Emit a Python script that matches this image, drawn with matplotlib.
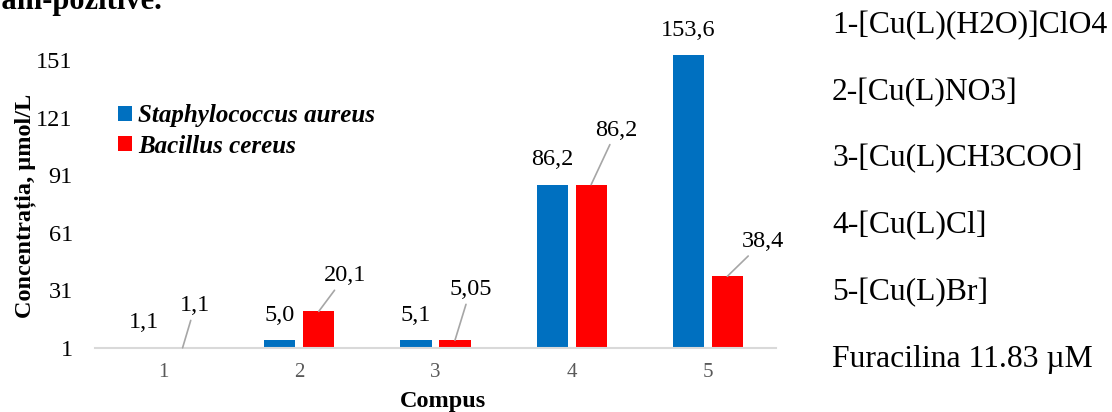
import matplotlib.pyplot as plt
import numpy as np

plt.rcParams["font.family"] = ["Liberation Serif", "DejaVu Serif"]

compounds = ["1", "2", "3", "4", "5"]
staph = [1.1, 5.0, 5.1, 86.2, 153.6]
bacillus = [1.1, 20.1, 5.05, 86.2, 38.4]
series_names = ["Staphylococcus aureus", "Bacillus cereus"]
legend_lines = [
    "1-[Cu(L)(H2O)]ClO4",
    "2-[Cu(L)NO3]",
    "3-[Cu(L)CH3COO]",
    "4-[Cu(L)Cl]",
    "5-[Cu(L)Br]",
    "Furacilina 11.83 µM",
]
yticks = [1, 31, 61, 91, 121, 151]

W, H = 1112, 412
fig = plt.figure(figsize=(W / 100, H / 100), dpi=100)
ax = fig.add_axes([95 / W, 64 / H, (776 - 95) / W, (348 - 20) / H])


def fmt(v):
    s = f"{v:.2f}"
    if s.endswith("0"):
        s = s[:-1]
    return s.replace(".", ",")


x = np.arange(len(compounds))
width = 0.228
off = 0.143
ax.bar(x - off, np.array(staph) - 1, width, bottom=1, color="#0070C0",
       label=series_names[0])
ax.bar(x + off, np.array(bacillus) - 1, width, bottom=1, color="#FF0000",
       label=series_names[1])

# blue labels sit straight above the bars
for xi, v in zip(x - off, staph):
    ax.annotate(fmt(v), (xi, v), xytext=(0, 19.5), textcoords="offset pixels",
                ha="center", va="baseline", fontsize=17.5)

# red labels are pushed aside with a leader line
red_offsets = [(12.5, 36.5), (26.5, 30), (15.5, 45), (25.5, 49), (35.5, 29)]
for xi, v, (dx, dy) in zip(x + off, bacillus, red_offsets):
    ax.annotate(fmt(v), (xi, v), xytext=(dx, dy), textcoords="offset pixels",
                ha="center", va="baseline", fontsize=17.5,
                arrowprops=dict(arrowstyle="-", color="#a6a6a6", lw=1.2,
                                shrinkA=1, shrinkB=0))

ax.set_xlim(-0.5, len(compounds) - 0.5)
ax.set_ylim(1, 172)
ax.set_xticks(x)
ax.set_xticklabels(compounds)
ax.set_yticks(yticks)
ax.tick_params(axis="x", length=0, pad=11, labelsize=15, labelcolor="#595959")
ax.tick_params(axis="y", length=0, pad=16, labelsize=17.5)
for side in ["top", "right", "left"]:
    ax.spines[side].set_visible(False)
ax.spines["bottom"].set_color("#d9d9d9")
ax.spines["bottom"].set_linewidth(1.5)

fig.text(443 / W, 1 - 391 / H, "Compus", ha="center", va="top",
         fontsize=17.5, fontweight="bold")
fig.text(25 / W, 1 - 206 / H, "Concentrația, µmol/L", rotation=90,
         ha="center", va="center", fontsize=17.5, fontweight="bold")

ax.legend(loc="center left", bbox_to_anchor=(118 / W, 1 - 131 / H),
          bbox_transform=fig.transFigure, frameon=False,
          prop=dict(size=18, weight="bold", style="italic"),
          handlelength=0.55, handleheight=0.55, handletextpad=0.25,
          labelspacing=0.3, borderpad=0, borderaxespad=0)

fig.text(162 / W, 1 - 9 / H, "Gram-pozitive.", ha="right", va="baseline",
         fontsize=22, fontweight="bold")

for i, line in enumerate(legend_lines):
    fig.text(832 / W, 1 - (33 + 66.8 * i) / H, line, ha="left", va="baseline",
             fontsize=22.8)

fig.savefig("out.png", dpi=100)
